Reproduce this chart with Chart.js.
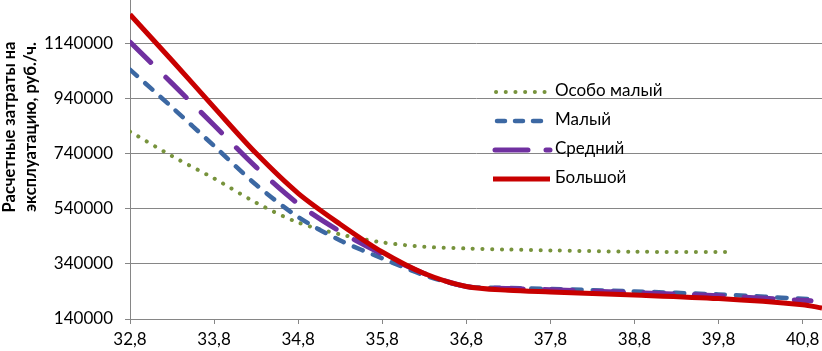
<!DOCTYPE html>
<html>
<head>
<meta charset="utf-8">
<script src="https://cdn.jsdelivr.net/npm/chart.js@4.4.0/dist/chart.umd.min.js"></script>
<style>
    html, body { margin: 0; padding: 0; background: #ffffff; }
    #wrap { position: relative; width: 822px; height: 351px; }
</style>
</head>
<body>
<div id="wrap"><canvas id="costChart"></canvas></div>
<script>
// Series names (legend order)
const seriesNames = ['Особо малый', 'Малый', 'Средний', 'Большой'];

// X values for each series
const xExtraSmall = [32.8, 33.3, 33.8, 34.3, 34.8, 35.3, 35.8, 36.3, 36.8, 37.3, 37.8, 38.8, 39.8, 39.9];
const xSmall = [32.8, 33.3, 33.8, 34.3, 34.8, 35.3, 35.8, 36.3, 36.8, 37.3, 37.8, 38.8, 39.8, 40.9];
const xMedium = [32.8, 33.3, 33.8, 34.3, 34.8, 35.3, 35.8, 36.3, 36.8, 37.3, 37.8, 38.8, 39.8, 40.9];
const xLarge = [32.8, 33.3, 33.8, 34.3, 34.8, 35.3, 35.8, 36.3, 36.8, 37.3, 37.8, 38.8, 39.8, 40.8, 41.03];

// Costs, rub./h
const yExtraSmall = [820000, 731000, 650000, 562000, 490000, 447000, 418000, 402000, 396000, 392000, 389000, 384000, 383000, 383000];
const ySmall = [1045000, 908000, 768000, 627000, 510000, 425000, 360000, 299000, 258000, 253000, 249000, 240000, 229000, 212000];
const yMedium = [1145000, 995000, 843000, 691000, 558000, 457000, 375000, 305000, 258000, 251000, 246000, 236000, 224000, 206000];
const yLarge = [1245000, 1078000, 908000, 741000, 596000, 484000, 383000, 305000, 258000, 244000, 238000, 227000, 214000, 192000, 180000];

// Axis ticks
const xTicks = [32.8, 33.8, 34.8, 35.8, 36.8, 37.8, 38.8, 39.8, 40.8];
const yTicks = [140000, 340000, 540000, 740000, 940000, 1140000];

const axisTitle = ['Расчетные затраты на', 'эксплуатацию, руб./ч.'];

const FONT = 'Lato, "Open Sans", sans-serif';
const GRID = '#868686';

function toPoints(xs, ys) {
    return xs.map((x, i) => ({ x: x, y: ys[i] }));
}

// legend samples and y-axis title drawn inside the canvas
const legendPlugin = {
    id: 'sideLegend',
    afterDraw(chart) {
        const c = chart.ctx;
        const rows = [92, 121, 150, 179];
        const dashes = [[0.1, 9.6], [8, 10], [33, 18], []];
        const starts = [496, 497, 495, 493];
        chart.data.datasets.forEach((ds, i) => {
            const y = rows[i];
            c.save();
            c.strokeStyle = ds.borderColor;
            c.lineWidth = ds.borderWidth;
            c.lineCap = i === 3 ? 'butt' : 'round';
            c.setLineDash(dashes[i]);
            c.beginPath();
            c.moveTo(starts[i], y);
            c.lineTo(550, y);
            c.stroke();
            c.restore();

            c.save();
            c.fillStyle = '#000';
            c.font = '17px ' + FONT;
            c.textAlign = 'left';
            c.textBaseline = 'middle';
            c.fillText(ds.label, 555, y - 1);
            c.restore();
        });

        // y axis title, two rotated lines
        c.save();
        c.fillStyle = '#000';
        c.font = 'bold 16.5px ' + FONT;
        c.textAlign = 'center';
        c.textBaseline = 'middle';
        c.translate(10, 127);
        c.rotate(-Math.PI / 2);
        c.fillText(axisTitle[0], 0, 0);
        c.fillText(axisTitle[1], 0, 21);
        c.restore();
    }
};

const ctx = document.getElementById('costChart').getContext('2d');

const costChart = new Chart(ctx, {
    type: 'line',
    data: {
        datasets: [
            {
                label: seriesNames[0],
                data: toPoints(xExtraSmall, yExtraSmall),
                borderColor: '#77933C',
                borderWidth: 4,
                borderDash: [0.1, 9.6],
                borderCapStyle: 'round',
                order: 3
            },
            {
                label: seriesNames[1],
                data: toPoints(xSmall, ySmall),
                borderColor: '#3C68A3',
                borderWidth: 4.5,
                borderDash: [9.5, 11],
                borderCapStyle: 'round',
                order: 2
            },
            {
                label: seriesNames[2],
                data: toPoints(xMedium, yMedium),
                borderColor: '#7030A0',
                borderWidth: 5,
                borderDash: [29, 21],
                borderCapStyle: 'round',
                order: 1
            },
            {
                label: seriesNames[3],
                data: toPoints(xLarge, yLarge),
                borderColor: '#C80000',
                borderWidth: 5,
                order: 0
            }
        ]
    },
    options: {
        responsive: true,
        maintainAspectRatio: false,
        animation: false,
        layout: { padding: 0 },
        elements: {
            point: { radius: 0 },
            line: { tension: 0.3, fill: false }
        },
        plugins: {
            legend: { display: false },
            tooltip: { enabled: false }
        },
        scales: {
            x: {
                type: 'linear',
                min: 32.8,
                max: 41.03,
                afterBuildTicks: (scale) => { scale.ticks = xTicks.map(v => ({ value: v })); },
                afterFit: (scale) => {
                    scale.height = 32;
                    scale.paddingLeft = 0;
                    scale.paddingRight = 0;
                },
                grid: {
                    drawOnChartArea: false,
                    drawTicks: true,
                    tickLength: 5,
                    color: GRID
                },
                border: { color: GRID, width: 1 },
                ticks: {
                    autoSkip: false,
                    maxRotation: 0,
                    padding: 5,
                    color: '#000',
                    font: { family: FONT, size: 17 },
                    callback: (v) => Number(v).toFixed(1).replace('.', ',')
                }
            },
            y: {
                min: 140000,
                max: 1297500,
                afterBuildTicks: (scale) => { scale.ticks = yTicks.map(v => ({ value: v })); },
                afterFit: (scale) => {
                    scale.width = 130;
                    scale.paddingTop = 0;
                    scale.paddingBottom = 0;
                },
                grid: {
                    color: GRID,
                    lineWidth: 1,
                    tickLength: 5
                },
                border: { color: GRID, width: 1 },
                ticks: {
                    padding: 12,
                    color: '#000',
                    font: { family: FONT, size: 17 },
                    callback: (v) => String(v)
                }
            }
        }
    },
    plugins: [legendPlugin]
});
</script>
</body>
</html>
